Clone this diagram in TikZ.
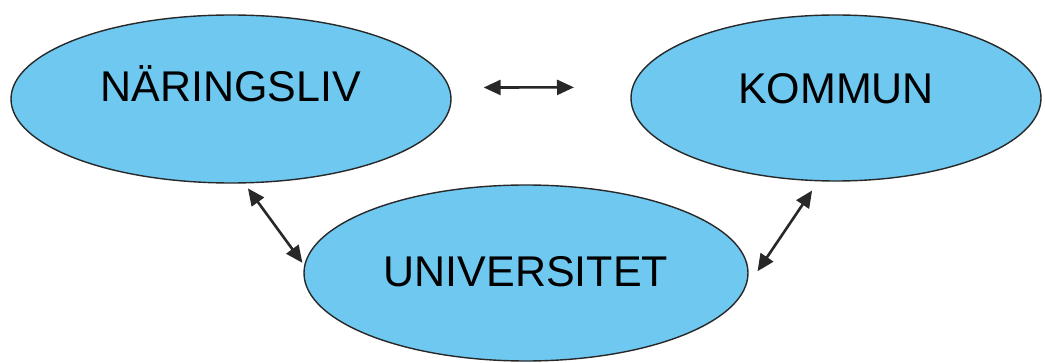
\documentclass[tikz,border=0pt]{standalone}
\usepackage{fontspec}
\setmainfont{Liberation Sans}
\definecolor{partblue}{RGB}{110,200,240}
\definecolor{darkline}{RGB}{40,40,40}
\usetikzlibrary{shapes.geometric, arrows.meta}
\newcommand{\twoway}[4]
{
	\draw[twoway, shorten <=#3pt, shorten >=#4pt] (#1) -- (#2)
}

\begin{document}
\begin{tikzpicture}[x=1pt, y=-1pt,
	every node/.append style={shape=ellipse,
		draw=darkline, line width=1.4pt, fill=partblue,
		font=\fontsize{43}{50}\selectfont, text height=31pt},
	twoway/.style={draw=darkline, line width=2.6pt,
		{Triangle[length=17pt,width=15pt]}-{Triangle[length=17pt,width=15pt]}}]

	\useasboundingbox (0,0) rectangle (1045,363);
	\node[minimum width=440pt, minimum height=168pt, text depth=25pt] at (231, 99) (NAR){NÄRINGSLIV};
	\node[minimum width=410pt, minimum height=166pt, text depth=20pt] at (836, 98) (KOM){KOMMUN};
	\node[minimum width=444pt, minimum height=176pt, text depth=4pt] at (526, 273) (UNI){UNIVERSITET};
	\twoway{NAR.3}{KOM.177}{34}{58};
	\twoway{NAR.279}{UNI.178}{6}{3};
	\twoway{KOM.258}{UNI.355}{11}{25};
\end{tikzpicture}
\end{document}
